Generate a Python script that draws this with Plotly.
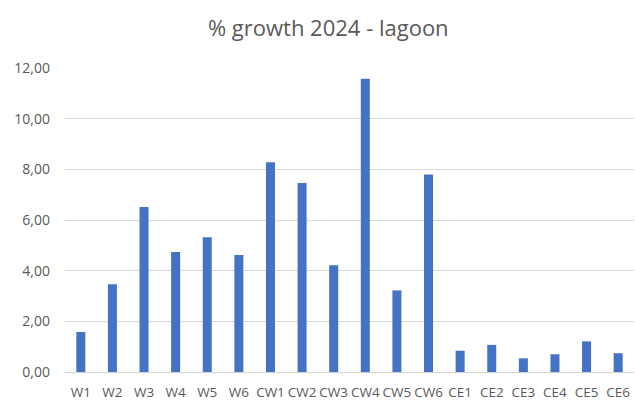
import plotly.graph_objects as go

categories = ["W1", "W2", "W3", "W4", "W5", "W6", "CW1", "CW2", "CW3", "CW4", "CW5", "CW6",
              "CE1", "CE2", "CE3", "CE4", "CE5", "CE6"]
growth = [1.58, 3.46, 6.51, 4.74, 5.32, 4.62, 8.28, 7.46, 4.21, 11.58, 3.22, 7.80,
          0.84, 1.07, 0.54, 0.70, 1.21, 0.74]
y_ticks = [0, 2, 4, 6, 8, 10, 12]

fig = go.Figure(go.Bar(x=categories, y=growth, marker_color="#4472C4", marker_line_width=0))

fig.update_layout(
    width=635, height=401,
    margin=dict(l=65, r=1, t=68, b=29),
    paper_bgcolor="white", plot_bgcolor="white",
    separators=", ",
    bargap=0.715,
    showlegend=False,
    title=dict(text="% growth 2024 - lagoon", x=0.517, xanchor="center", y=0.93, yanchor="middle",
               font=dict(family="Open Sans", size=22, color="#595959")),
    font=dict(family="Open Sans", size=13.5, color="#595959"),
)
fig.update_xaxes(showgrid=False, showline=True, linecolor="#d0d0d0", linewidth=1,
                 tickfont=dict(size=13.5, color="#595959"), ticks="", tickangle=0,
                 ticklabelstandoff=8)
fig.update_yaxes(range=[0, 12], tickvals=y_ticks, tickformat=".2f", showgrid=True,
                 gridcolor="#d9d9d9", gridwidth=1, zeroline=False, showline=False,
                 tickfont=dict(size=14, color="#595959"), ticks="", ticklabelstandoff=14)

fig.write_html("out.html")
